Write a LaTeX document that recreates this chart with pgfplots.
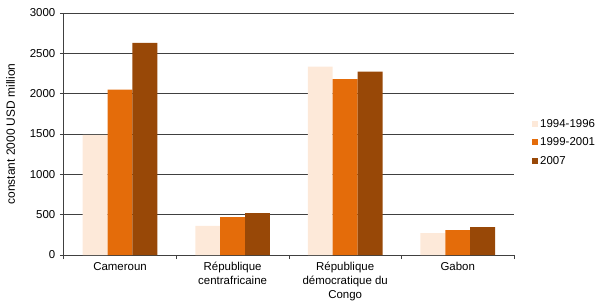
\documentclass[border=0pt]{standalone}
\usepackage{fontspec}
\setmainfont{Liberation Sans}
\usepackage{pgfplots}
\pgfplotsset{compat=1.18}
\definecolor{cA}{HTML}{FDE9D9}
\definecolor{cB}{HTML}{E46C0A}
\definecolor{cC}{HTML}{984807}
\definecolor{gridc}{HTML}{404040}
\begin{document}
\begin{tikzpicture}
\begin{axis}[
  scale only axis, width=452pt, height=243pt,
  clip=false,
  font=\fontsize{11.5}{13}\selectfont,
  /pgf/number format/assume math mode=true,
  ybar=0pt, bar width=25pt,
  xmin=-0.5, xmax=3.5, ymin=0, ymax=3000,
  ytick={0,500,...,3000},
  yticklabel style={/pgf/number format/1000 sep={}, xshift=-1pt},
  xtick={0,1,2,3},
  xticklabels={Cameroun, République\\centrafricaine, République\\démocratique du\\Congo, Gabon},
  xticklabel style={align=center, font=\fontsize{11.5}{14}\selectfont},
  minor xtick={-0.5,0.5,1.5,2.5,3.5},
  major x tick style={draw=none},
  tick align=outside, tick pos=left,
  major tick length=4pt, minor tick length=4pt,
  tick style={gridc, line width=0.6pt},
  ymajorgrids, major grid style={gridc, line width=0.7pt},
  axis x line*=bottom, axis y line*=left,
  axis line style={gridc, line width=0.7pt},
  ylabel={constant 2000 USD million},
  ylabel style={font=\fontsize{12}{13}\selectfont, inner sep=0pt, at={(-58pt,0.5)}, anchor=north},
  legend style={draw=none, fill=none, at={(1.04,0.465)}, anchor=west,
    font=\fontsize{11.5}{13}\selectfont, row sep=5pt, inner sep=0pt,
    /tikz/every even column/.append style={column sep=1pt}},
  legend image code/.code={\fill[#1] (0pt,-3pt) rectangle (6pt,3pt);},
  legend cell align=left,
]
\addplot[fill=cA, draw=none] coordinates {(0,1490) (1,360) (2,2335) (3,272)};
\addplot[fill=cB, draw=none] coordinates {(0,2050) (1,470) (2,2180) (3,310)};
\addplot[fill=cC, draw=none] coordinates {(0,2630) (1,520) (2,2272) (3,346)};
\legend{1994-1996, 1999-2001, 2007}
\path (rel axis cs:0,0) ++(-64pt,-48pt) coordinate (bl);
\path (rel axis cs:1,1) ++(81pt,13pt) coordinate (tr);
\end{axis}
\useasboundingbox (bl) rectangle (tr);
\end{tikzpicture}
\end{document}
